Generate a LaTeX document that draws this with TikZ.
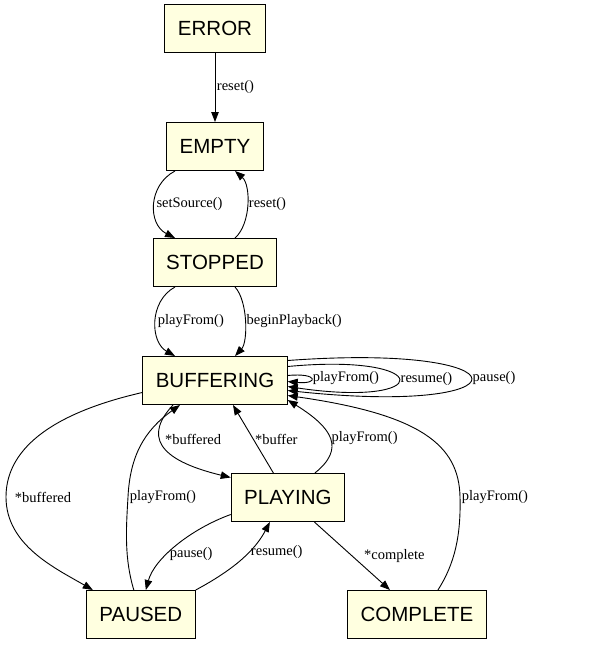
\documentclass[tikz,border=0pt]{standalone}
\usepackage{fontspec}
\setmainfont{Liberation Serif}
\newfontfamily\statefont{Liberation Sans}
\newfontfamily\edgefont{Liberation Serif}
\usetikzlibrary{positioning,arrows.meta}
\definecolor{stateyellow}{HTML}{FFFFE0}

\begin{document}
\begin{tikzpicture}[x=1pt, y=-1pt, line width=0.9pt,
	>={Triangle[length=10pt,width=7.5pt]},
	statebox/.style = { draw, line width=1pt, fill=stateyellow,
			minimum height=48pt, inner xsep=13pt,
			font=\statefont\fontsize{20.5}{24}\selectfont },
	edgestr/.style = { inner sep=1.5pt, font=\edgefont\fontsize{14.5}{17}\selectfont }]

  \useasboundingbox (0,0) rectangle (590,645);

  \node[name=error, statebox] at (215,28.5) {ERROR};
  \node[name=empty, statebox, below=69pt of error] {EMPTY};
  \node[name=stopped, statebox, below=67pt of empty] {STOPPED};
  \node[name=buf, statebox, below=69pt of stopped] {BUFFERING};
  \node[name=playing, statebox, below right=68pt and -57pt of buf] {PLAYING};
  \node[name=paused, statebox, below left=68pt and 35pt of playing] {PAUSED};
  \node[name=complete, statebox, below right=68pt and 2pt of playing] {COMPLETE};

  \draw [->] (error) -- (empty) node [edgestr, midway, right] {reset()};
  \draw [->] ([xshift=-40pt]empty.south) .. controls +(-27,14) and +(-27.5,-14) ..
    ([xshift=-40pt]stopped.north) node [edgestr, pos=0.5, right] {setSource()};
  \draw [->] ([xshift=20pt]stopped.north) .. controls +(16,-14) and +(16,14) ..
    ([xshift=20pt]empty.south) node [edgestr, pos=0.5, right] {reset()};
  \draw [->] ([xshift=-40pt]stopped.south) .. controls +(-26,14) and +(-25,-14) ..
    ([xshift=-40pt]buf.north) node [edgestr, pos=0.5, right] {playFrom()};
  \draw [->] ([xshift=20pt]stopped.south) .. controls +(13,14) and +(13,-14) ..
    ([xshift=20pt]buf.north) node [edgestr, pos=0.5, right] {beginPlayback()};

  % loops on BUFFERING
  \draw [->] ([yshift=5pt]buf.east) .. controls +(31,-3) and +(31,3) ..
    ([yshift=-1pt]buf.east) node [edgestr, pos=0.5, right] {playFrom()};
  \draw [->] ([yshift=14pt]buf.east) .. controls +(148,-14) and +(148,22) ..
    ([yshift=-6pt]buf.east) node [edgestr, pos=0.5, right] {resume()};
  \draw [->] ([yshift=20pt]buf.east) .. controls +(244,-18) and +(244,26) ..
    ([yshift=-10pt]buf.east) node [edgestr, pos=0.5, right] {pause()};

  \draw [->] ([yshift=-12pt]buf.west) .. controls +(-83,19) and +(0,-52) ..
    (6,497) node [edgestr, right=7pt] {*buffered}
    .. controls +(0,48) and +(-38,-22) .. ([xshift=-48pt]paused.north);
  \draw [->] ([xshift=-7pt]paused.north) .. controls +(-9.5,-31.5) and +(-2,33) ..
    (128,497) node [edgestr, right] {playFrom()}
    .. controls +(2,-42) and +(-35,25) .. ([xshift=-35pt]buf.south);
  \draw [->] ([xshift=-42pt]buf.south) .. controls +(-28,30) and +(-75,-18) ..
    ([yshift=20pt]playing.west) node [edgestr, pos=0.42, right=3pt] {*buffered};
  \draw [->] ([xshift=-14.5pt]playing.north) -- ([xshift=18pt]buf.south)
    node [edgestr, midway, right] {*buffer};
  \draw [->] ([xshift=27pt]playing.north) .. controls +(30.5,-24.5) and +(45,28) ..
    ([yshift=5pt]buf.south east) node [edgestr, pos=0.5, right] {playFrom()};
  \draw [->] ([xshift=21pt]complete.north) .. controls +(17,-26.5) and +(1,38) ..
    (460,497) node [edgestr, right] {playFrom()}
    .. controls +(-1,-52) and +(133,19) .. ([yshift=-15pt]buf.east);
  \draw [->] ([yshift=-17pt]playing.west) .. controls +(-40,14.5) and +(8.5,-31.5) ..
    ([xshift=5pt]paused.north) node [edgestr, pos=0.6, right] {pause()};
  \draw [->] (paused.north east) .. controls +(40,-21.5) and +(-14.5,27.5) ..
    ([xshift=-18pt]playing.south) node [edgestr, pos=0.6, right] {resume()};
  \draw [->] ([xshift=26.5pt]playing.south) -- ([xshift=-27pt]complete.north)
    node [edgestr, midway, right=10pt] {*complete};
\end{tikzpicture}
\end{document}
